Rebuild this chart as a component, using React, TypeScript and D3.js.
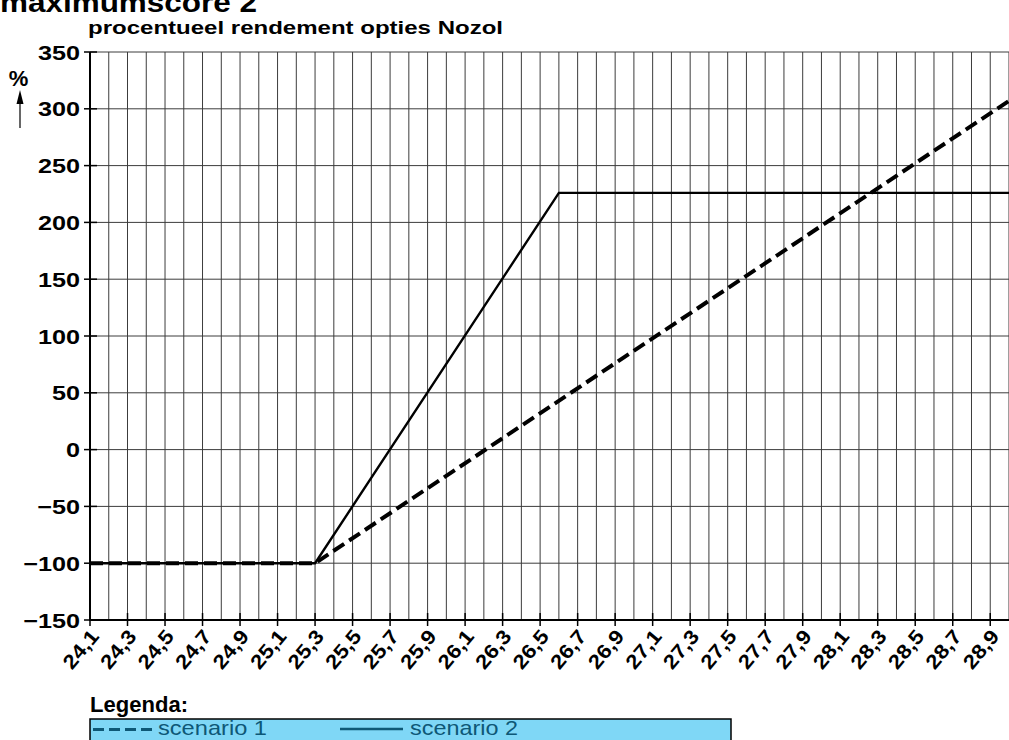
import React, { useRef, useEffect } from "react"
import * as d3 from "d3"

// koers Nozol (x) en rendement in % (y)
const xTicks = [24.1, 24.3, 24.5, 24.7, 24.9, 25.1, 25.3, 25.5, 25.7, 25.9, 26.1, 26.3, 26.5, 26.7, 26.9, 27.1, 27.3, 27.5, 27.7, 27.9, 28.1, 28.3, 28.5, 28.7, 28.9]
const yTicks = [-150, -100, -50, 0, 50, 100, 150, 200, 250, 300, 350]
const scenario1 = [
  { x: 24.1, y: -100 },
  { x: 25.3, y: -100 },
  { x: 29.0, y: 307 },
]
const scenario2 = [
  { x: 24.1, y: -100 },
  { x: 25.3, y: -100 },
  { x: 26.6, y: 226 },
  { x: 29.0, y: 226 },
]

const FONT = "'Liberation Sans', Arial, Helvetica, sans-serif"
const LEGEND = "#0e5876"

const App = () => {
  const svgRef = useRef<SVGSVGElement>(null)

  useEffect(() => {
    document.body.style.margin = "0"
    const svg = d3.select(svgRef.current)
    svg.selectAll("*").remove()

    const left = 90
    const right = 1009
    const top = 52
    const bottom = 620

    const x = d3.scaleLinear().domain([24.1, 29.0]).range([left, right])
    const y = d3.scaleLinear().domain([-150, 350]).range([bottom, top])

    // titels
    svg.append("text").attr("x", 0).attr("y", 12)
      .attr("font-family", FONT).attr("font-weight", "bold").attr("font-size", 27)
      .attr("textLength", 257).attr("lengthAdjust", "spacingAndGlyphs")
      .text("maximumscore 2")
    svg.append("text").attr("x", 88).attr("y", 34)
      .attr("font-family", FONT).attr("font-weight", "bold").attr("font-size", 19)
      .attr("textLength", 415).attr("lengthAdjust", "spacingAndGlyphs")
      .text("procentueel rendement opties Nozol")

    // rasterlijnen
    const grid = svg.append("g").attr("stroke", "#3c3c3c").attr("stroke-width", 1)
    d3.range(0, 50).forEach((i) => {
      const v = 24.1 + i * 0.1
      grid.append("line")
        .attr("x1", x(v)).attr("x2", x(v))
        .attr("y1", top).attr("y2", bottom)
    })
    yTicks.forEach((v) => {
      grid.append("line")
        .attr("x1", left).attr("x2", right)
        .attr("y1", y(v)).attr("y2", y(v))
    })

    // assen
    svg.append("line").attr("x1", left).attr("x2", left).attr("y1", top).attr("y2", bottom)
      .attr("stroke", "#000").attr("stroke-width", 2)
    svg.append("line").attr("x1", left - 1).attr("x2", right).attr("y1", bottom).attr("y2", bottom)
      .attr("stroke", "#000").attr("stroke-width", 2)

    // y ticks
    const yg = svg.append("g")
    yTicks.forEach((v) => {
      yg.append("line").attr("x1", left - 6).attr("x2", left + 7)
        .attr("y1", y(v)).attr("y2", y(v)).attr("stroke", "#000").attr("stroke-width", 1.5)
      yg.append("text")
        .attr("transform", `translate(${left - 10},${y(v) + 7.5}) scale(1.2,1)`)
        .attr("text-anchor", "end").attr("font-family", FONT).attr("font-weight", "bold")
        .attr("font-size", 21)
        .text(v < 0 ? "\u2212" + Math.abs(v) : String(v))
    })

    // x ticks
    const xg = svg.append("g")
    xTicks.forEach((v) => {
      xg.append("line").attr("x1", x(v)).attr("x2", x(v))
        .attr("y1", bottom - 7).attr("y2", bottom + 6).attr("stroke", "#000").attr("stroke-width", 1.5)
      xg.append("text")
        .attr("transform", `translate(${x(v) + 10},${bottom + 17}) rotate(-50) scale(1.12,1)`)
        .attr("text-anchor", "end")
        .attr("font-family", FONT).attr("font-weight", "bold").attr("font-size", 20)
        .text(v.toFixed(1).replace(".", ","))
    })

    // eenheid
    svg.append("text").attr("x", 18.5).attr("y", 86).attr("text-anchor", "middle")
      .attr("font-family", FONT).attr("font-weight", "bold").attr("font-size", 22).text("%")
    svg.append("line").attr("x1", 20).attr("x2", 20).attr("y1", 100).attr("y2", 128)
      .attr("stroke", "#000").attr("stroke-width", 1.2)
    svg.append("path").attr("d", "M20,90 L16.5,104 L23.5,104 Z").attr("fill", "#000")

    // lijnen
    const line = d3.line<{ x: number; y: number }>().x((d) => x(d.x)).y((d) => y(d.y))
    svg.append("path").datum(scenario2).attr("d", line)
      .attr("fill", "none").attr("stroke", "#000").attr("stroke-width", 2.4)
    svg.append("path").datum(scenario1).attr("d", line)
      .attr("fill", "none").attr("stroke", "#000").attr("stroke-width", 4)
      .attr("stroke-dasharray", "13,6")

    // legenda
    svg.append("text").attr("x", 90).attr("y", 712)
      .attr("font-family", FONT).attr("font-weight", "bold").attr("font-size", 22)
      .attr("textLength", 98).attr("lengthAdjust", "spacingAndGlyphs").text("Legenda:")
    svg.append("rect").attr("x", 90).attr("y", 719).attr("width", 641).attr("height", 40)
      .attr("fill", "#7fd7f6").attr("stroke", "#000").attr("stroke-width", 1.5)
    svg.append("line").attr("x1", 93).attr("x2", 153).attr("y1", 729.5).attr("y2", 729.5)
      .attr("stroke", LEGEND).attr("stroke-width", 3).attr("stroke-dasharray", "11,5")
    svg.append("text").attr("x", 158).attr("y", 735).attr("fill", LEGEND)
      .attr("font-family", FONT).attr("font-size", 21)
      .attr("textLength", 109).attr("lengthAdjust", "spacingAndGlyphs").text("scenario 1")
    svg.append("line").attr("x1", 340).attr("x2", 403).attr("y1", 729).attr("y2", 729)
      .attr("stroke", LEGEND).attr("stroke-width", 2.5)
    svg.append("text").attr("x", 410).attr("y", 735).attr("fill", LEGEND)
      .attr("font-family", FONT).attr("font-size", 21)
      .attr("textLength", 108).attr("lengthAdjust", "spacingAndGlyphs").text("scenario 2")
  }, [])

  return (
    <svg ref={svgRef} width={1009} height={740} style={{ display: "block" }}></svg>
  )
}

export default App
